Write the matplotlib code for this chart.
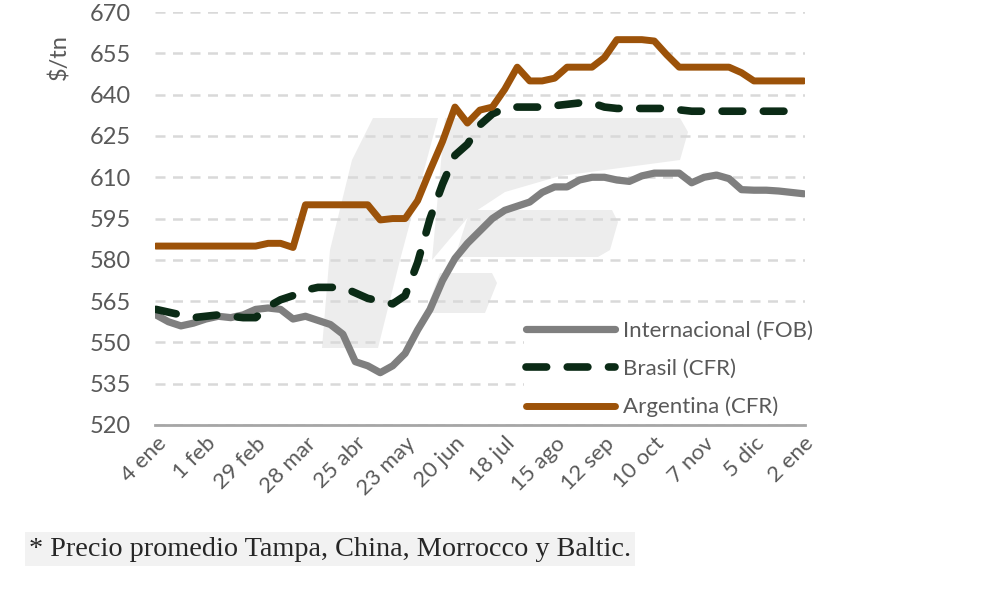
import matplotlib.pyplot as plt
from matplotlib.patches import Polygon
import numpy as np

# semanas (53 puntos semanales, 4 ene -> 2 ene)
etiquetas = ["4 ene", "1 feb", "29 feb", "28 mar", "25 abr", "23 may", "20 jun",
             "18 jul", "15 ago", "12 sep", "10 oct", "7 nov", "5 dic", "2 ene"]

internacional = [560, 557.5, 556, 557, 558.5, 559.5, 559, 560, 562, 562.5, 562, 558.5,
                 559.5, 558, 556.5, 553, 543, 541.5, 539, 541.5, 546, 554.5, 562,
                 572.5, 580.5, 586, 590.5, 595, 598, 599.5, 601, 604.5, 606.5, 606.5,
                 609, 610, 610, 609, 608.5, 610.5, 611.5, 611.5, 611.5, 608, 610,
                 610.8, 609.5, 605.5, 605.3, 605.3, 605, 604.5, 604]

brasil = [562, 561, 560, 559, 559.5, 560, 559.5, 559, 559, 563, 565.5, 567, 569, 570,
          570, 570, 568, 566, 565, 564, 567, 579, 595, 607.5, 618, 622, 629, 633, 635,
          635.5, 635.5, 635.5, 636, 636.5, 637, 637, 635.5, 635, 635, 635, 635, 635,
          634.5, 634, 634, 634, 634, 634, 634, 634, 634, 634, 634]

argentina = [585, 585, 585, 585, 585, 585, 585, 585, 585, 586, 586, 584.5, 600, 600,
             600, 600, 600, 600, 594.5, 595, 595, 601.5, 612.5, 623, 635.5, 629.7,
             634.4, 635.5, 642, 650, 645, 645, 646, 650, 650, 650, 653.5, 660, 660,
             660, 659.5, 654.5, 650, 650, 650, 650, 650, 648, 645, 645, 645, 645, 645]

semanas = np.arange(len(argentina))

gris_txt = "#595959"
plt.rcParams['font.family'] = ['Lato', 'DejaVu Sans']

W, H = 992, 606
fig = plt.figure(figsize=(W / 100, H / 100), dpi=100)
ax = fig.add_axes([0.156, 0.2987, 0.6555, 0.6813])
ax.patch.set_alpha(0)

# marca de agua (logo gris claro detras del grafico), en pixeles de figura
logo = [
    [(373, 118), (438, 118), (400, 260), (378, 348), (322, 348), (330, 250), (352, 160)],
    [(445, 118), (680, 118), (688, 132), (680, 160), (560, 176), (505, 192), (470, 215), (432, 260)],
    [(470, 210), (612, 210), (618, 222), (610, 250), (598, 257), (455, 257)],
    [(440, 273), (492, 273), (497, 283), (485, 313), (425, 313)],
]
for forma in logo:
    pts = [(x / W, 1 - y / H) for x, y in forma]
    fig.patches.append(Polygon(pts, closed=True, transform=fig.transFigure,
                               facecolor="#ededed", edgecolor="none", zorder=-1))

ax.plot(semanas, internacional, color="#7f7f7f", lw=5.2, solid_capstyle="round",
        solid_joinstyle="round", label="Internacional (FOB)", zorder=3)
ax.plot(semanas, brasil, color="#0b2b16", lw=5.5, dashes=(2.7, 2.7),
        dash_capstyle="round", dash_joinstyle="round", label="Brasil (CFR)", zorder=4)
ax.plot(semanas, argentina, color="#9c5209", lw=5, solid_capstyle="round",
        solid_joinstyle="round", label="Argentina (CFR)", zorder=5)

ax.set_ylim(520, 670)
ax.set_xlim(-0.1, 52.1)
ax.set_yticks(np.arange(520, 671, 15))
ax.set_xticks(semanas[::4])
ax.set_xticklabels(etiquetas, rotation=45, ha="right", rotation_mode="anchor")
ax.tick_params(axis="both", length=0, colors=gris_txt)
ax.tick_params(axis="y", pad=17, labelsize=17)
ax.tick_params(axis="x", pad=6, labelsize=16)
ax.yaxis.grid(True, color="#d9d9d9", lw=1.8, dashes=(4, 3))
ax.set_axisbelow(True)
for s in ["left", "right", "top"]:
    ax.spines[s].set_visible(False)
ax.spines["bottom"].set_color("#a6a6a6")
ax.spines["bottom"].set_linewidth(2)

ax.set_ylabel("$/tn", color=gris_txt, fontsize=17)
ax.yaxis.set_label_coords(-0.13, 0.89)

leg = ax.legend(loc="lower right", bbox_to_anchor=(1.033, -0.014), frameon=True,
                fontsize=16, handlelength=4.0, handletextpad=0.35, labelspacing=0.82,
                borderpad=0.1, labelcolor=gris_txt)
leg.get_frame().set_facecolor("white")
leg.get_frame().set_edgecolor("none")
leg.get_frame().set_alpha(1)
leg.get_frame().set_boxstyle("square", pad=0)

fig.text(0.029, 0.094, "* Precio promedio Tampa, China, Morrocco y Baltic.",
         fontsize=20.3, family="Liberation Serif", color="#262626", va="center",
         bbox=dict(facecolor="#f2f2f2", edgecolor="none", pad=3))

fig.savefig("out.png", dpi=100)
